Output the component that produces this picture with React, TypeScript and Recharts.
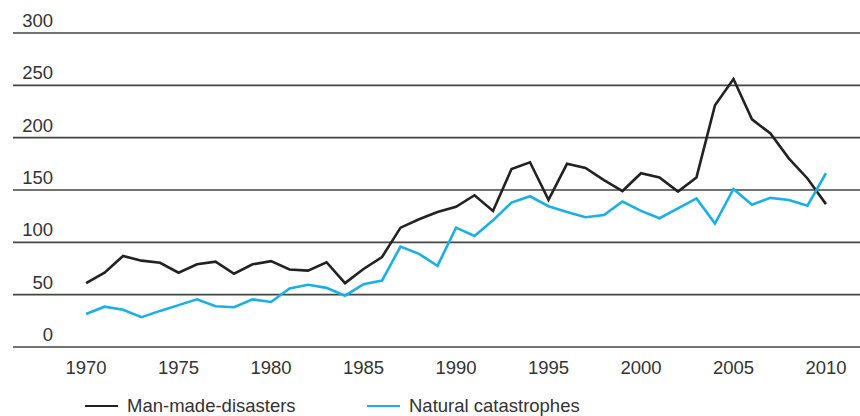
import React from "react";
import {
  LineChart,
  Line,
  XAxis,
  YAxis,
  CartesianGrid,
  Legend,
} from "recharts";

const years = [
  1970, 1971, 1972, 1973, 1974, 1975, 1976, 1977, 1978, 1979,
  1980, 1981, 1982, 1983, 1984, 1985, 1986, 1987, 1988, 1989,
  1990, 1991, 1992, 1993, 1994, 1995, 1996, 1997, 1998, 1999,
  2000, 2001, 2002, 2003, 2004, 2005, 2006, 2007, 2008, 2009,
  2010,
];

const manMade = [
  61, 71, 87, 82.5, 80.5, 71, 79, 81.5, 70, 79,
  82, 74, 73, 81, 61, 74.5, 86, 114, 122, 129,
  134, 145, 130, 170, 176.5, 140.5, 175, 171, 159.5, 149,
  166, 162, 148.5, 162, 231, 256, 217.5, 204, 180, 161,
  136.5,
];

const natural = [
  31.5, 38.5, 35.5, 28.5, 34.5, 40, 45.5, 39, 38, 45.5,
  43, 56, 59.5, 56.5, 49, 60, 63.5, 96, 89, 77.5,
  114, 106, 121, 138, 144, 134.5, 129, 124, 126, 139,
  130, 123, 132.5, 142, 118, 151, 136, 142.5, 140.5, 135,
  166,
];

const xTicks = [1970, 1975, 1980, 1985, 1990, 1995, 2000, 2005, 2010];
const yTicks = [0, 50, 100, 150, 200, 250, 300];

const data = years.map((year, i) => ({
  year,
  man: manMade[i],
  natural: natural[i],
}));

const FONT = '"Liberation Sans", Arial, sans-serif';
const TEXT = "#333";

// y labels sit just above their gridline, right-aligned near the left edge
const renderYTick = (props: any) => (
  <text
    key={props.payload.value}
    x={53}
    y={props.y - 6}
    textAnchor="end"
    fontFamily={FONT}
    fontSize={18.5}
    fill={TEXT}
  >
    {props.payload.value}
  </text>
);

const renderLegend = (props: any) => (
  <div
    style={{
      display: "flex",
      alignItems: "center",
      height: 24,
      paddingLeft: 85,
      fontFamily: FONT,
      fontSize: 18.5,
      color: TEXT,
    }}
  >
    {props.payload.map((p: any, i: number) => (
      <div
        key={p.value}
        style={{ display: "flex", alignItems: "center", width: i === 0 ? 282 : undefined }}
      >
        <span
          style={{
            display: "inline-block",
            width: 33,
            height: 2.5,
            background: p.color,
            marginRight: 9,
          }}
        />
        <span>{p.value}</span>
      </div>
    ))}
  </div>
);

export default function App() {
  return (
    <div>
      <style>{`body{margin:0}`}</style>
      <LineChart
        width={860}
        height={416}
        data={data}
        margin={{ top: 33, right: 0, left: 0, bottom: 15 }}
      >
        <CartesianGrid vertical={false} stroke="#444" strokeWidth={1.6} />
        <XAxis
          dataKey="year"
          type="number"
          domain={[1966.05, 2011.84]}
          ticks={xTicks}
          axisLine={false}
          tickLine={false}
          tickMargin={8}
          height={30}
          tick={{ fontFamily: FONT, fontSize: 18.5, fill: TEXT }}
        />
        <YAxis
          domain={[0, 300]}
          ticks={yTicks}
          width={13}
          axisLine={false}
          tickLine={false}
          tick={renderYTick}
        />
        <Legend
          verticalAlign="bottom"
          content={renderLegend}
          wrapperStyle={{ left: 0, bottom: -2, width: 860 }}
        />
        <Line
          type="linear"
          dataKey="man"
          name="Man-made-disasters"
          stroke="#222"
          strokeWidth={2.6}
          dot={false}
          isAnimationActive={false}
        />
        <Line
          type="linear"
          dataKey="natural"
          name="Natural catastrophes"
          stroke="#1ab0e6"
          strokeWidth={2.6}
          dot={false}
          isAnimationActive={false}
        />
      </LineChart>
    </div>
  );
}
